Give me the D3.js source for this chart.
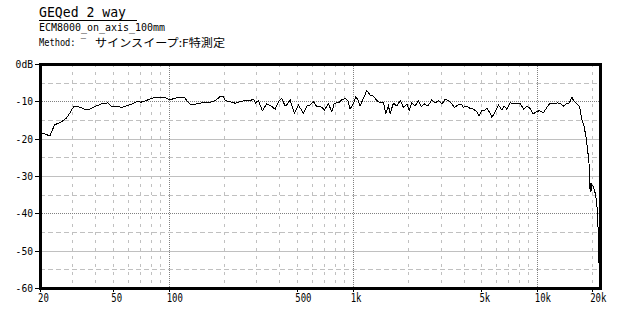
<!DOCTYPE html>
<html>
<head>
<meta charset="utf-8">
<script src="https://cdn.jsdelivr.net/npm/d3@7"></script>
<style>
  body { margin: 0; background: #fff; }
  text { font-family: "DejaVu Sans Mono", "Liberation Mono", monospace; fill: #000; }
</style>
</head>
<body>
<svg id="chart" width="640" height="320"></svg>
<script>
// captions
var title = "GEQed 2 way";
var subTitle = "ECM8000_on_axis_100mm";
var methodParts = ["Method: ‾", "サインスイープ:F特測定"];

// response: frequency (Hz) and level (dB)
var freqs = [20, 21.4, 22.6, 24.0, 26.1, 27.8, 29.0, 30.6, 32.2, 35.0, 37.3, 39.7, 43.1, 46.8, 48.8,
  53.1, 55.3, 58.9, 62.7, 66.7, 71.0, 75.6, 80.5, 87.6, 95.2, 101, 108, 115, 122, 128, 134, 142,
  151, 164, 179, 190, 198, 203, 216, 230, 244, 260, 277, 289, 297, 307, 323, 341, 360, 379, 395,
  412, 429, 438, 457, 482, 507, 540, 563, 587, 612, 638, 665, 702, 738, 770, 795, 836, 873, 909,
  941, 968, 1009, 1040, 1066, 1097, 1143, 1193, 1243, 1296, 1352, 1409, 1469, 1513, 1563, 1597,
  1664, 1737, 1810, 1886, 1968, 2025, 2095, 2183, 2275, 2354, 2454, 2560, 2691, 2806, 2924, 3049,
  3178, 3311, 3455, 3570, 3725, 3882, 3996, 4169, 4345, 4528, 4725, 4864, 5030, 5196, 5355, 5580,
  5700, 5940, 6191, 6460, 6649, 6878, 7168, 7470, 7795, 8123, 8465, 8834, 9206, 9523, 9926, 10344,
  10874, 11347, 11826, 12324, 12955, 13520, 13966, 14446, 15054, 15514, 15828, 16516, 17062, 17579,
  18094, 18554, 18860, 19193, 19336, 19400, 19450, 19506, 19600, 19700, 19800, 19926, 20329, 20766,
  21210, 21371, 21560, 21750];
var levels = [-18.4, -18.75, -19.3, -16.3, -15.5, -14.5, -13.2, -11.25, -11.4, -12.1, -12.1, -11.4, -10.7, -10.4, -11.25,
  -11.25, -11.7, -11.2, -10.8, -10.1, -10.2, -9.8, -9.2, -8.9, -8.9, -9.6, -9.2, -8.9, -8.9, -10.4, -11.0, -10.7,
  -10.4, -10.4, -9.8, -8.75, -8.6, -9.8, -10.1, -10.5, -10.1, -9.8, -9.8, -9.4, -10.4, -9.8, -12.5, -10.7, -11.25, -12.1, -10.1,
  -9.2, -11.25, -11.0, -9.6, -13.2, -11.0, -13.2, -11.25, -11.0, -10.1, -11.4, -11.25, -12.3, -10.7, -12.8, -10.5, -10.4, -9.6, -9.2,
  -9.8, -12.1, -10.5, -8.75, -9.6, -11.25, -9.2, -7.1, -8.3, -8.6, -9.8, -10.4, -10.4, -13.2, -11.25, -13.2,
  -10.5, -11.25, -9.8, -11.6, -10.7, -12.5, -10.4, -11.25, -9.8, -11.4, -10.7, -11.25, -9.6, -10.4, -9.8, -10.7,
  -9.5, -9.8, -10.7, -11.6, -11.0, -10.7, -11.6, -11.25, -11.9, -12.1, -12.8, -13.9, -12.5, -12.5, -11.9, -13.2,
  -14.3, -12.8, -11.0, -12.3, -11.25, -12.1, -10.4, -10.7, -10.7, -10.5, -12.1, -11.25, -11.9, -13.4, -12.8, -12.5,
  -13.0, -11.6, -10.5, -10.7, -10.4, -10.7, -11.25, -10.7, -10.4, -8.9, -9.8, -10.7, -11.4, -14.8,
  -16.8, -19.9, -23, -25.7, -31, -33.5, -31.5, -34.2, -31.8, -34.3, -32, -32.4, -32.9, -34.6,
  -37.3, -41.8, -44.5, -53.4];

// axis ticks and grid
var yTicks = [0, -10, -20, -30, -40, -50, -60];
var yTickLabels = ["0dB", "-10", "-20", "-30", "-40", "-50", "-60"];
var xTicks = [20, 50, 100, 500, 1000, 5000, 10000, 20000];
var xTickLabels = ["20", "50", "100", "500", "1k", "5k", "10k", "20k"];
var xGrid = [30, 40, 50, 60, 70, 80, 90, 100, 200, 300, 400, 500, 600, 700, 800, 900, 1000,
  2000, 3000, 4000, 5000, 6000, 7000, 8000, 9000, 10000, 20000];
var yGrid = [-5, -10, -15, -20, -25, -30, -35, -40, -45, -50, -55];

var svg = d3.select("#chart");

var x = d3.scaleLog().domain([20, 22050]).range([40, 600]);
var y = d3.scaleLinear().domain([-60, 0]).range([288, 64]);

function px(v) { return Math.round(v) + 0.5; } // snap to pixel for crisp 1px lines

// vertical grid: decades dotted dark, the rest dashed light
svg.append("g").selectAll("line")
  .data(xGrid).enter()
  .append("line")
  .attr("x1", function(d) { return px(x(d)); })
  .attr("x2", function(d) { return px(x(d)); })
  .attr("y1", y(0)).attr("y2", y(-60))
  .attr("stroke", function(d) { return [100, 1000, 10000].indexOf(d) >= 0 ? "#808080" : "#c0c0c0"; })
  .attr("stroke-dasharray", function(d) { return [100, 1000, 10000].indexOf(d) >= 0 ? "1,1" : "3,5"; })
  .attr("shape-rendering", "crispEdges");

// horizontal grid
svg.append("g").selectAll("line")
  .data(yGrid).enter()
  .append("line")
  .attr("x1", x(20)).attr("x2", x(22050))
  .attr("y1", function(d) { return px(y(d)); })
  .attr("y2", function(d) { return px(y(d)); })
  .attr("stroke", function(d) { return (d == -10 || d == -40) ? "#808080" : "#c0c0c0"; })
  .attr("stroke-dasharray", function(d) {
    if (d == -10 || d == -40) return "1,1";
    if (d % 10 != 0) return "5,3";
    return null;
  })
  .attr("shape-rendering", "crispEdges");

// response curve
var line = d3.line()
  .x(function(d) { return x(d[0]); })
  .y(function(d) { return y(d[1]); });

svg.append("path")
  .datum(d3.zip(freqs, levels))
  .attr("d", line)
  .attr("fill", "none")
  .attr("stroke", "#000")
  .attr("stroke-width", 1)
  .attr("shape-rendering", "crispEdges");

// frame
svg.append("rect")
  .attr("x", x(20)).attr("y", y(0))
  .attr("width", x(22050) - x(20)).attr("height", y(-60) - y(0))
  .attr("fill", "none")
  .attr("stroke", "#000")
  .attr("stroke-width", 3)
  .attr("shape-rendering", "crispEdges");

// y ticks + labels
svg.append("g").selectAll("line")
  .data(yTicks).enter()
  .append("line")
  .attr("x1", x(20) - 5).attr("x2", x(20))
  .attr("y1", function(d) { return px(y(d)); })
  .attr("y2", function(d) { return px(y(d)); })
  .attr("stroke", "#000")
  .attr("shape-rendering", "crispEdges");

svg.append("g").selectAll("text")
  .data(yTicks).enter()
  .append("text")
  .attr("x", 33)
  .attr("y", function(d) { return y(d) + 4; })
  .attr("text-anchor", "end")
  .attr("font-size", 11)
  .attr("textLength", function(d, i) { return yTickLabels[i].length * 5.8; })
  .attr("lengthAdjust", "spacingAndGlyphs")
  .text(function(d, i) { return yTickLabels[i]; });

// x ticks + labels
svg.append("g").selectAll("line")
  .data(xTicks).enter()
  .append("line")
  .attr("x1", function(d) { return px(x(d)); })
  .attr("x2", function(d) { return px(x(d)); })
  .attr("y1", y(-60)).attr("y2", y(-60) + 4)
  .attr("stroke", "#000")
  .attr("shape-rendering", "crispEdges");

svg.append("g").selectAll("text")
  .data(xTicks).enter()
  .append("text")
  .attr("x", function(d) { return x(d) - 2; })
  .attr("y", 302)
  .attr("font-size", 12)
  .attr("textLength", function(d, i) { return xTickLabels[i].length * 5.4; })
  .attr("lengthAdjust", "spacingAndGlyphs")
  .text(function(d, i) { return xTickLabels[i]; });

// captions
svg.append("text")
  .attr("x", 39).attr("y", 17)
  .attr("font-size", 14)
  .attr("textLength", 87)
  .attr("lengthAdjust", "spacingAndGlyphs")
  .text(title);
svg.append("line")
  .attr("x1", 39).attr("x2", 137)
  .attr("y1", 20.5).attr("y2", 20.5)
  .attr("stroke", "#000");

svg.append("text")
  .attr("x", 39).attr("y", 31)
  .attr("font-size", 11)
  .attr("textLength", 126)
  .attr("lengthAdjust", "spacingAndGlyphs")
  .text(subTitle);

// method line: latin part with the stray overline, then the japanese part
svg.append("text")
  .attr("x", 39).attr("y", 46)
  .attr("font-size", 10)
  .attr("textLength", 47)
  .attr("lengthAdjust", "spacingAndGlyphs")
  .text(methodParts[0]);
svg.append("text")
  .attr("x", 95).attr("y", 47)
  .attr("font-size", 11)
  .style("font-family", "'Noto Sans CJK JP', sans-serif")
  .attr("textLength", 130)
  .attr("lengthAdjust", "spacingAndGlyphs")
  .text(methodParts[1]);
</script>
</body>
</html>
